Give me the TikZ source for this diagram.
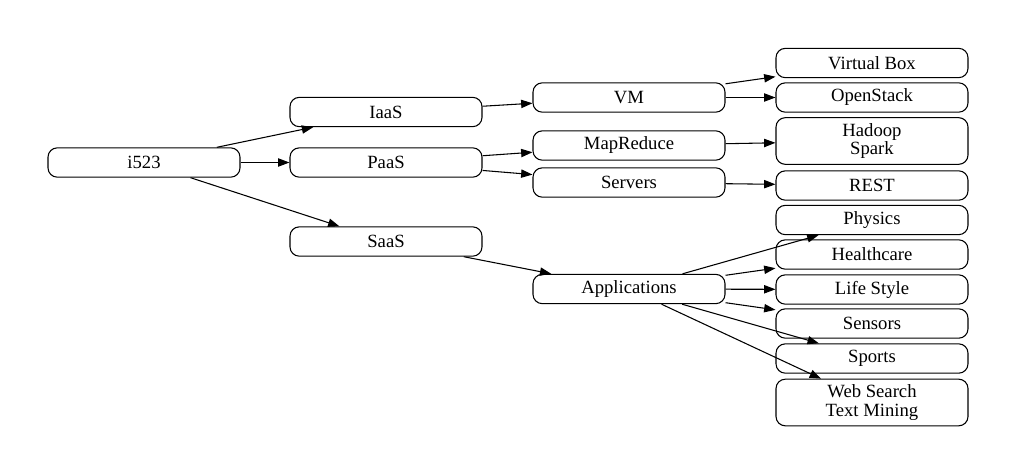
\documentclass[tikz,border=0pt]{standalone}
\usepackage{fontspec}
\setmainfont{Liberation Serif}
\usetikzlibrary{arrows.meta}

\tikzset{
  topic/.style={draw, rounded corners=7pt, line width=0.8pt, minimum width=144pt,
    minimum height=22pt, inner sep=0pt, align=center, font=\fontsize{14}{14}\selectfont},
  tall/.style={topic, minimum height=35pt},
  link/.style={line width=0.8pt, -{Triangle[length=8.5pt,width=6.2pt]}}
}

\begin{document}
\begin{tikzpicture}[x=0.75pt, y=-0.75pt]
  \useasboundingbox (0,0) rectangle (1016,475);

  % root and service models
  \node[topic] (root) at (144,162.5) {i523};
  \node[topic] (iaas) at (386,112) {IaaS};
  \node[topic] (paas) at (386,162.5) {PaaS};
  \node[topic] (saas) at (386,241.5) {SaaS};

  % middle rank
  \node[topic] (vm) at (629,97.5) {VM};
  \node[topic] (mapred) at (629,145.5) {MapReduce};
  \node[topic] (servers) at (629,182.5) {Servers};
  \node[topic] (apps) at (629,289) {Applications};

  % leaves
  \node[topic] (vbox) at (872,63) {Virtual Box};
  \node[topic] (openstack) at (872,97.5) {OpenStack};
  \node[tall] (hadoop) at (872,141) {Hadoop\\Spark};
  \node[topic] (rest) at (872,185.5) {REST};
  \node[topic] (physics) at (872,220) {Physics};
  \node[topic] (health) at (872,254.5) {Healthcare};
  \node[topic] (life) at (872,289.5) {Life Style};
  \node[topic] (sensors) at (872,323.5) {Sensors};
  \node[topic] (sports) at (872,358.5) {Sports};
  \node[tall] (web) at (872,402.5) {Web Search\\Text Mining};

  \draw[link] (root) -- (iaas);
  \draw[link] (root) -- (paas);
  \draw[link] (root) -- (saas);

  \draw[link] (iaas) -- (vm);
  \draw[link] (paas) -- (mapred);
  \draw[link] (paas) -- (servers);
  \draw[link] (saas) -- (apps);

  \draw[link] (vm) -- (vbox);
  \draw[link] (vm) -- (openstack);
  \draw[link] (mapred) -- (hadoop);
  \draw[link] (servers) -- (rest);

  \draw[link] (apps) -- (physics);
  \draw[link] (apps) -- (health);
  \draw[link] (apps) -- (life);
  \draw[link] (apps) -- (sensors);
  \draw[link] (apps) -- (sports);
  \draw[link] (apps) -- (web);
\end{tikzpicture}
\end{document}
